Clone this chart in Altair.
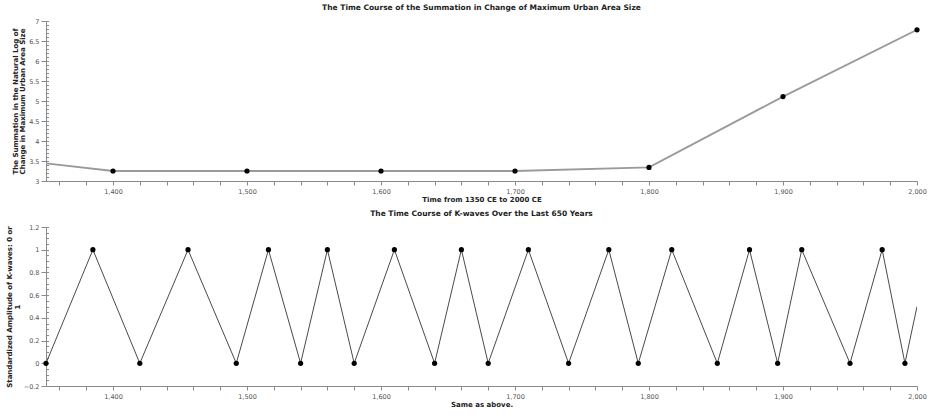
import altair as alt
import pandas as pd

# ---- data ----
urban_years = [1350, 1400, 1500, 1600, 1700, 1800, 1900, 2000]
urban_values = [3.44, 3.25, 3.25, 3.25, 3.25, 3.34, 5.11, 6.78]
urban_marker = [False, True, True, True, True, True, True, True]

kwave_years = [1350, 1385, 1420, 1456, 1492, 1516, 1540, 1560, 1580, 1610,
               1640, 1660, 1680, 1710, 1740, 1770, 1792, 1817, 1851, 1875,
               1896, 1914, 1950, 1974, 1991, 2000]
kwave_values = [0, 1, 0, 1, 0, 1, 0, 1, 0, 1,
                0, 1, 0, 1, 0, 1, 0, 1, 0, 1,
                0, 1, 0, 1, 0, 0.5]
kwave_marker = [True] * 25 + [False]

x_tick_values = list(range(1360, 2001, 20))
top_major = [3, 3.5, 4, 4.5, 5, 5.5, 6, 6.5, 7]
top_minor = [round(3 + 0.1 * i, 2) for i in range(41)]
bot_major = [-0.2, 0, 0.2, 0.4, 0.6, 0.8, 1, 1.2]
bot_minor = [round(-0.2 + 0.05 * i, 2) for i in range(29)]

top_df = pd.DataFrame({"year": urban_years, "value": urban_values, "marker": urban_marker})
bot_df = pd.DataFrame({"year": kwave_years, "value": kwave_values, "marker": kwave_marker})

W = 871
AX = "#8a8a8a"
LAB = "#555555"
FONT = "DejaVu Sans"


def x_enc(title):
    return alt.X(
        "year:Q",
        scale=alt.Scale(domain=[1350, 2000], nice=False, zero=False),
        axis=alt.Axis(
            values=x_tick_values,
            labelExpr="datum.value % 100 === 0 ? format(datum.value, ',') : ''",
            title=title,
            grid=False,
            tickSize=4,
            labelPadding=3,
            titlePadding=1,
            labelFontSize=6.5,
            titleFontSize=7,
            labelColor=LAB,
            domainColor=AX,
            tickColor=AX,
            labelFlush=False,
        ),
    )


def panel(df, title, xtitle, ytitle, domain, major, minor, line_color, line_width, h, fmt):
    yscale = alt.Scale(domain=domain, nice=False, zero=False)
    line = alt.Chart(df).mark_line(color=line_color, strokeWidth=line_width, clip=True).encode(
        x=x_enc(xtitle),
        y=alt.Y(
            "value:Q",
            scale=yscale,
            axis=alt.Axis(
                values=major,
                format=fmt,
                title=ytitle,
                grid=False,
                tickSize=5,
                labelPadding=2,
                titlePadding=3,
                titleLineHeight=7.5,
                labelFontSize=6.5,
                titleFontSize=7,
                labelColor=LAB,
                domainColor=AX,
                tickColor=AX,
                labelFlush=False,
            ),
        ),
    )
    pts = alt.Chart(df).transform_filter("datum.marker").mark_point(
        filled=True, color="black", size=27, opacity=1
    ).encode(
        x=x_enc(xtitle),
        y=alt.Y(
            "value:Q",
            scale=yscale,
            axis=alt.Axis(
                orient="right",
                offset=-W,
                values=minor,
                labels=False,
                domain=False,
                title=None,
                grid=False,
                tickSize=2.5,
                tickColor=AX,
            ),
        ),
    )
    return alt.layer(line, pts).resolve_axis(y="independent").properties(
        width=W,
        height=h,
        title=alt.TitleParams(title, fontSize=7.5, fontWeight="bold", anchor="middle", offset=7),
    )


top = panel(
    top_df,
    "The Time Course of the Summation in Change of Maximum Urban Area Size",
    "Time from 1350 CE to 2000 CE",
    ["The Summation in the Natural Log of", "Change in Maximum Urban Area Size"],
    [3, 7], top_major, top_minor, "#9a9a9a", 1.8, 160, "",
)
bottom = panel(
    bot_df,
    "The Time Course of K-waves Over the Last 650 Years",
    "Same as above.",
    ["Standardized Amplitude of K-waves: 0 or", "1"],
    [-0.2, 1.2], bot_major, bot_minor, "#4a4a4a", 1.0, 159, "",
)

chart = alt.vconcat(top, bottom, spacing=6).properties(
    padding={"left": 5, "top": 3, "right": 5, "bottom": 4}
).configure(font=FONT).configure_view(stroke=None).configure_axis(
    titleFont=FONT, labelFont=FONT, titleFontWeight="bold", titleColor="#222"
).configure_title(font=FONT, color="#222")

chart.save("out.html", embed_options={"renderer": "svg", "actions": False})
